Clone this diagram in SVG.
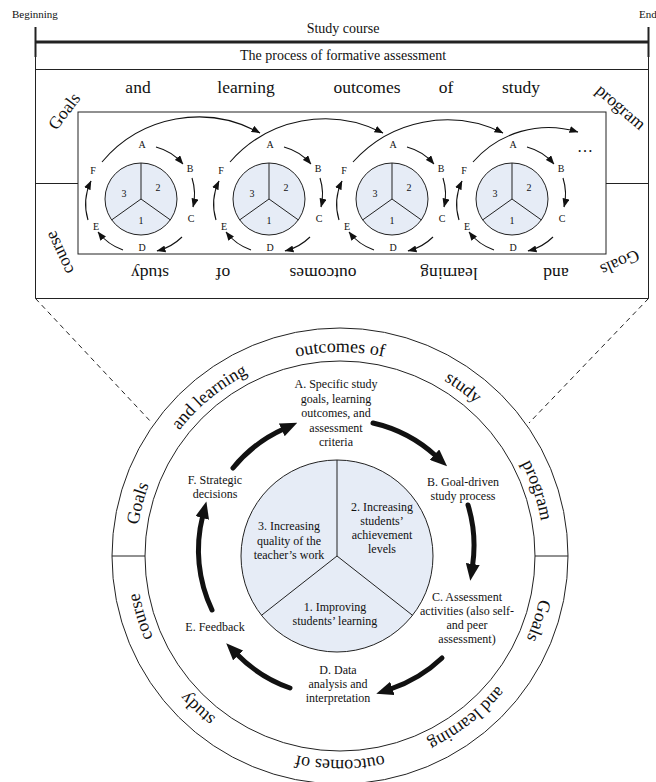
<svg xmlns="http://www.w3.org/2000/svg" xmlns:xlink="http://www.w3.org/1999/xlink" width="656" height="782" viewBox="0 0 656 782">
<defs>
<style>
.t{font-family:"Liberation Serif","Times New Roman",serif;fill:#111}
.s10{font-size:10px}
.s11{font-size:11px}
.s12{font-size:12px}
.s14{font-size:14px}
.s17{font-size:17.5px}
.s18{font-size:18px}
.m{text-anchor:middle}
.ln{fill:none;stroke:#222;stroke-width:1}
.pie{fill:#E6ECF6;stroke:#222;stroke-width:1}
.thin{fill:none;stroke:#111;stroke-width:1.1}
.thick{fill:none;stroke:#111;stroke-width:5;stroke-linecap:round}
.dash{fill:none;stroke:#222;stroke-width:1;stroke-dasharray:5 4}
</style>
<marker id="ah" markerUnits="userSpaceOnUse" markerWidth="17" markerHeight="14" viewBox="0 0 17 14" refX="2" refY="7" orient="auto"><path d="M0,0 L17,7 L0,14 z" fill="#111"/></marker>
<marker id="sa" markerUnits="userSpaceOnUse" markerWidth="9" markerHeight="7" viewBox="0 0 9 7" refX="8.5" refY="3.5" orient="auto"><path d="M0,0 L9,3.5 L0,7 z" fill="#111"/></marker>
<path id="ring" d="M136,556 A204,204 0 1,1 544,556 A204,204 0 1,1 136,556"/>
<g id="mini">
<circle class="pie" cx="0" cy="0" r="36"/>
<path class="ln" d="M0,0 V-36 M0,0 L-29.3,20.9 M0,0 L29.3,20.9"/>
<text class="t s10 m" x="-17" y="-2.5">3</text>
<text class="t s10 m" x="17" y="-8.5">2</text>
<text class="t s10 m" x="0" y="24.5">1</text>
<text class="t s10 m" x="1" y="-51.5">A</text>
<text class="t s10 m" x="49" y="-27.5">B</text>
<text class="t s10 m" x="50" y="22.5">C</text>
<text class="t s10 m" x="1" y="51.5">D</text>
<text class="t s10 m" x="-45" y="30.5">E</text>
<text class="t s10 m" x="-48" y="-25.5">F</text>
</g>
<g id="miniArrows">
<path class="thin" marker-end="url(#sa)" d="M15,-52 A54,54 0 0,1 42,-35"/>
<path class="thin" marker-end="url(#sa)" d="M51,-21 A54,54 0 0,1 52,8"/>
<path class="thin" marker-end="url(#sa)" d="M41,38 A54,54 0 0,1 16,52"/>
<path class="thin" marker-end="url(#sa)" d="M-18,51 A54,54 0 0,1 -43,33"/>
<path class="thin" marker-end="url(#sa)" d="M-53,21 A54,54 0 0,1 -50,-18"/>
</g>
</defs>

<g id="timeline">
<text class="t s11" x="12" y="18">Beginning</text>
<text class="t s11" x="639" y="18">End</text>
<text class="t s14 m" x="343" y="33">Study course</text>
<line x1="35" y1="42" x2="648.5" y2="42" stroke="#222" stroke-width="3"/>
<line x1="35.5" y1="27" x2="35.5" y2="57" stroke="#222" stroke-width="2"/>
<line x1="648.5" y1="27" x2="648.5" y2="57" stroke="#222" stroke-width="2"/>
</g>

<g id="process-box">
<path class="ln" d="M35.5,42 V298.5 H648.5 V42"/>
<text class="t s14 m" x="343" y="60">The process of formative assessment</text>
<line class="ln" x1="35.5" y1="69.5" x2="648.5" y2="69.5"/>
<line class="ln" x1="35.5" y1="183.5" x2="78" y2="183.5"/>
<line class="ln" x1="606" y1="183.5" x2="648.5" y2="183.5"/>
<rect class="ln" x="78" y="112" width="528" height="142"/>
<text class="t s17 m" x="138" y="93">and</text>
<text class="t s17 m" x="246" y="93">learning</text>
<text class="t s17 m" x="367" y="93">outcomes</text>
<text class="t s17 m" x="446" y="93">of</text>
<text class="t s17 m" x="521" y="93">study</text>
<text class="t s17 m" transform="translate(64,111) rotate(-53)" x="0" y="6">Goals</text>
<text class="t s17 m" transform="translate(619,109) rotate(41)" x="0" y="3">program</text>
<text class="t s17 m" transform="translate(620,263) rotate(156)" x="0" y="6">Goals</text>
<text class="t s17 m" transform="translate(61,252) rotate(-115)" x="0" y="4">course</text>
<text class="t s17 m" transform="rotate(180 556 268)" x="556" y="268">and</text>
<text class="t s17 m" transform="rotate(180 449 268)" x="449" y="268">learning</text>
<text class="t s17 m" transform="rotate(180 323 268)" x="323" y="268">outcomes</text>
<text class="t s17 m" transform="rotate(180 223 268)" x="223" y="268">of</text>
<text class="t s17 m" transform="rotate(180 150 268)" x="150" y="268">study</text>
<text class="t m" style="font-size:16px" x="585" y="152">…</text>
</g>

<g id="cycle-1"><use xlink:href="#mini" href="#mini" x="141" y="199"/></g>
<g id="cycle-2"><use xlink:href="#mini" href="#mini" x="269" y="199"/></g>
<g id="cycle-3"><use xlink:href="#mini" href="#mini" x="392" y="199"/></g>
<g id="cycle-4"><use xlink:href="#mini" href="#mini" x="512" y="199"/></g>

<g id="ring-circle">
<circle class="ln" cx="340" cy="556" r="228"/>
<circle class="ln" cx="340" cy="556" r="195"/>
<line class="ln" x1="112" y1="556" x2="145" y2="556"/>
<line class="ln" x1="535" y1="556" x2="568" y2="556"/>
<text class="t s18 m"><textPath xlink:href="#ring" href="#ring" startOffset="52">Goals</textPath></text>
<text class="t s18 m"><textPath xlink:href="#ring" href="#ring" startOffset="180">and learning</textPath></text>
<text class="t s18 m"><textPath xlink:href="#ring" href="#ring" startOffset="320.4">outcomes of</textPath></text>
<text class="t s18 m"><textPath xlink:href="#ring" href="#ring" startOffset="449">study</textPath></text>
<text class="t s18 m"><textPath xlink:href="#ring" href="#ring" startOffset="575">program</textPath></text>
<text class="t s18 m"><textPath xlink:href="#ring" href="#ring" startOffset="705">Goals</textPath></text>
<text class="t s18 m"><textPath xlink:href="#ring" href="#ring" startOffset="826">and learning</textPath></text>
<text class="t s18 m"><textPath xlink:href="#ring" href="#ring" startOffset="961">outcomes of</textPath></text>
<text class="t s18 m"><textPath xlink:href="#ring" href="#ring" startOffset="1114">study</textPath></text>
<text class="t s18 m"><textPath xlink:href="#ring" href="#ring" startOffset="1221">course</textPath></text>
</g>

<g id="center-pie">
<circle class="pie" cx="337" cy="556" r="96"/>
<path class="ln" d="M337,556 V460 M337,556 L261.5,615.3 M337,556 L412.5,615.3"/>
<text class="t s12 m" x="289" y="530">3. Increasing<tspan x="289" dy="14.5">quality of the</tspan><tspan x="289" dy="14.5">teacher’s work</tspan></text>
<text class="t s12 m" x="382" y="511">2. Increasing<tspan x="382" dy="14">students’</tspan><tspan x="382" dy="14">achievement</tspan><tspan x="382" dy="14">levels</tspan></text>
<text class="t s12 m" x="335" y="611">1. Improving<tspan x="335" dy="14">students’ learning</tspan></text>
</g>

<g id="step-A"><text class="t s12 m" x="336" y="388">A. Specific study<tspan x="336" dy="14.5">goals, learning</tspan><tspan x="336" dy="14.5">outcomes, and</tspan><tspan x="336" dy="14.5">assessment</tspan><tspan x="336" dy="14.5">criteria</tspan></text></g>
<g id="step-B"><text class="t s12 m" x="463" y="486">B. Goal-driven<tspan x="463" dy="14">study process</tspan></text></g>
<g id="step-C"><text class="t s12 m" x="467" y="601">C. Assessment<tspan x="467" dy="14">activities (also self-</tspan><tspan x="467" dy="14">and peer</tspan><tspan x="467" dy="14">assessment)</tspan></text></g>
<g id="step-D"><text class="t s12 m" x="338" y="674">D. Data<tspan x="338" dy="14">analysis and</tspan><tspan x="338" dy="14">interpretation</tspan></text></g>
<g id="step-E"><text class="t s12 m" x="215" y="631">E. Feedback</text></g>
<g id="step-F"><text class="t s12 m" x="215" y="484">F. Strategic<tspan x="215" dy="14">decisions</tspan></text></g>

<g id="connectors">
<use xlink:href="#miniArrows" href="#miniArrows" x="141" y="199"/>
<use xlink:href="#miniArrows" href="#miniArrows" x="269" y="199"/>
<use xlink:href="#miniArrows" href="#miniArrows" x="392" y="199"/>
<use xlink:href="#miniArrows" href="#miniArrows" x="512" y="199"/>
<path class="thin" marker-end="url(#sa)" d="M102,162 A126,126 0 0,1 260,133"/>
<path class="thin" marker-end="url(#sa)" d="M230,162 A126,126 0 0,1 383,133"/>
<path class="thin" marker-end="url(#sa)" d="M353,162 A126,126 0 0,1 503,133"/>
<path class="thin" marker-end="url(#sa)" d="M473,162 A100,100 0 0,1 578,132"/>
<path class="dash" d="M35.5,298.5 L152,423"/>
<path class="dash" d="M648.5,298.5 L529,423"/>
<path class="thick" marker-end="url(#ah)" d="M373,423 A139,139 0 0,1 436,456"/>
<path class="thick" marker-end="url(#ah)" d="M468,505 A139,139 0 0,1 472.5,566"/>
<path class="thick" marker-end="url(#ah)" d="M442,658 A139,139 0 0,1 390.5,689"/>
<path class="thick" marker-end="url(#ah)" d="M290,688 A139,139 0 0,1 236.7,654"/>
<path class="thick" marker-end="url(#ah)" d="M212,610 A139,139 0 0,1 202.7,516"/>
<path class="thick" marker-end="url(#ah)" d="M233,468 A139,139 0 0,1 283.6,429"/>
</g>
</svg>
